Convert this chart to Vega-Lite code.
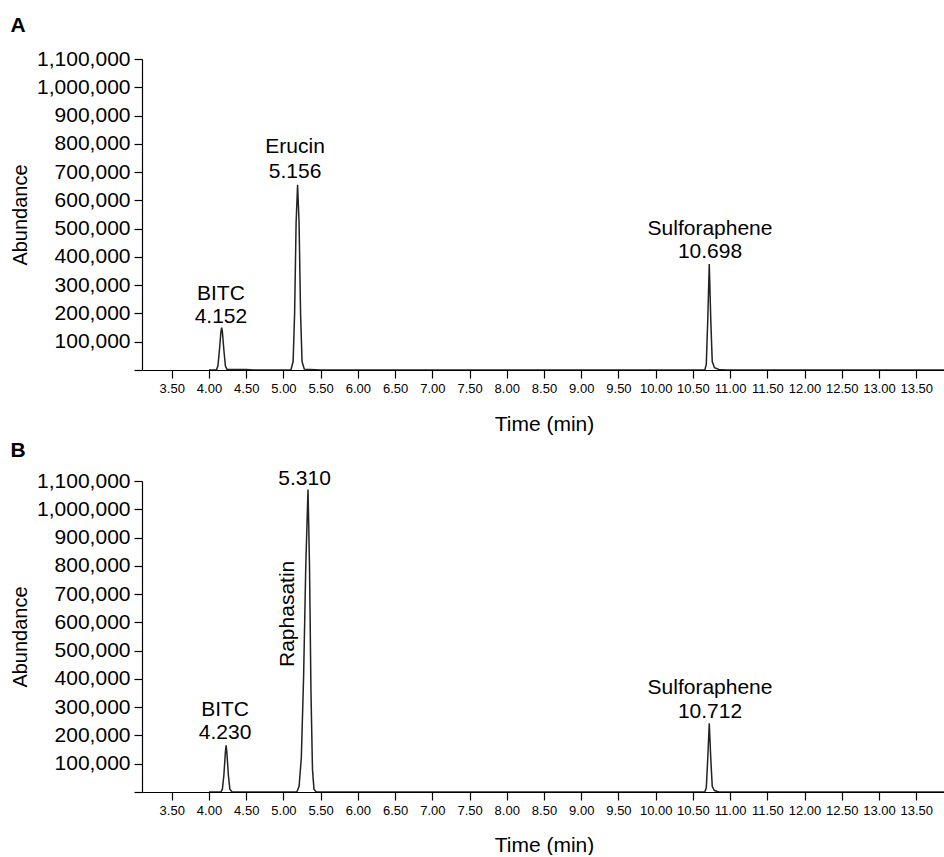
{
  "$schema": "https://vega.github.io/schema/vega-lite/v6.json",
  "padding": {"left": 10, "top": 15, "right": 0, "bottom": 0},
  "background": "white",
  "config": {
    "font": "Liberation Sans",
    "view": {"stroke": null},
    "axis": {"grid": false, "labelOverlap": false, "domainColor": "#000", "tickColor": "#000", "labelColor": "#000", "titleColor": "#000", "tickSize": 8, "domainWidth": 1.2, "tickWidth": 1.2, "titleFontWeight": "normal"},
    "title": {"fontSize": 21, "fontWeight": "bold", "anchor": "start", "frame": "bounds", "color": "#000"}
  },
  "datasets": {
    "trace": [
      {"panel": "A", "t": 4.00, "y": 0}, {"panel": "A", "t": 4.10, "y": 0}, {"panel": "A", "t": 4.12, "y": 15000}, {"panel": "A", "t": 4.14, "y": 70000}, {"panel": "A", "t": 4.16, "y": 135000}, {"panel": "A", "t": 4.17, "y": 150000}, {"panel": "A", "t": 4.18, "y": 135000}, {"panel": "A", "t": 4.20, "y": 70000}, {"panel": "A", "t": 4.22, "y": 15000}, {"panel": "A", "t": 4.24, "y": 3000}, {"panel": "A", "t": 4.50, "y": 1500}, {"panel": "A", "t": 4.60, "y": 0},
      {"panel": "A", "t": 5.10, "y": 0}, {"panel": "A", "t": 5.13, "y": 30000}, {"panel": "A", "t": 5.15, "y": 200000}, {"panel": "A", "t": 5.17, "y": 520000}, {"panel": "A", "t": 5.19, "y": 655000}, {"panel": "A", "t": 5.21, "y": 520000}, {"panel": "A", "t": 5.23, "y": 200000}, {"panel": "A", "t": 5.25, "y": 30000}, {"panel": "A", "t": 5.28, "y": 3000}, {"panel": "A", "t": 5.50, "y": 0},
      {"panel": "A", "t": 10.66, "y": 0}, {"panel": "A", "t": 10.68, "y": 20000}, {"panel": "A", "t": 10.70, "y": 180000}, {"panel": "A", "t": 10.72, "y": 375000}, {"panel": "A", "t": 10.74, "y": 180000}, {"panel": "A", "t": 10.76, "y": 30000}, {"panel": "A", "t": 10.79, "y": 8000}, {"panel": "A", "t": 10.85, "y": 2000}, {"panel": "A", "t": 10.95, "y": 0}, {"panel": "A", "t": 13.90, "y": 0},
      {"panel": "B", "t": 4.00, "y": 0}, {"panel": "B", "t": 4.16, "y": 0}, {"panel": "B", "t": 4.18, "y": 10000}, {"panel": "B", "t": 4.20, "y": 60000}, {"panel": "B", "t": 4.22, "y": 140000}, {"panel": "B", "t": 4.23, "y": 165000}, {"panel": "B", "t": 4.24, "y": 140000}, {"panel": "B", "t": 4.26, "y": 60000}, {"panel": "B", "t": 4.28, "y": 10000}, {"panel": "B", "t": 4.31, "y": 0},
      {"panel": "B", "t": 5.18, "y": 0}, {"panel": "B", "t": 5.21, "y": 20000}, {"panel": "B", "t": 5.24, "y": 120000}, {"panel": "B", "t": 5.27, "y": 400000}, {"panel": "B", "t": 5.30, "y": 800000}, {"panel": "B", "t": 5.33, "y": 1070000}, {"panel": "B", "t": 5.35, "y": 800000}, {"panel": "B", "t": 5.37, "y": 350000}, {"panel": "B", "t": 5.39, "y": 80000}, {"panel": "B", "t": 5.41, "y": 10000}, {"panel": "B", "t": 5.44, "y": 0},
      {"panel": "B", "t": 10.66, "y": 0}, {"panel": "B", "t": 10.68, "y": 15000}, {"panel": "B", "t": 10.70, "y": 120000}, {"panel": "B", "t": 10.72, "y": 243000}, {"panel": "B", "t": 10.74, "y": 120000}, {"panel": "B", "t": 10.76, "y": 20000}, {"panel": "B", "t": 10.79, "y": 5000}, {"panel": "B", "t": 10.85, "y": 0}, {"panel": "B", "t": 13.90, "y": 0}
    ],
    "labels": [
      {"panel": "A", "t": 4.16, "y": 270000, "text": "BITC", "angle": 0},
      {"panel": "A", "t": 4.16, "y": 186000, "text": "4.152", "angle": 0},
      {"panel": "A", "t": 5.156, "y": 788000, "text": "Erucin", "angle": 0},
      {"panel": "A", "t": 5.156, "y": 699000, "text": "5.156", "angle": 0},
      {"panel": "A", "t": 10.73, "y": 500000, "text": "Sulforaphene", "angle": 0},
      {"panel": "A", "t": 10.73, "y": 417000, "text": "10.698", "angle": 0},
      {"panel": "B", "t": 4.216, "y": 290000, "text": "BITC", "angle": 0},
      {"panel": "B", "t": 4.216, "y": 208000, "text": "4.230", "angle": 0},
      {"panel": "B", "t": 5.284, "y": 1107000, "text": "5.310", "angle": 0},
      {"panel": "B", "t": 5.06, "y": 630000, "text": "Raphasatin", "angle": 270},
      {"panel": "B", "t": 10.73, "y": 367000, "text": "Sulforaphene", "angle": 0},
      {"panel": "B", "t": 10.73, "y": 282000, "text": "10.712", "angle": 0}
    ]
  },
  "spacing": 6,
  "vconcat": [
    {
      "title": {"text": "A", "offset": 12},
      "width": 804, "height": 311,
      "encoding": {
        "x": {"field": "t", "type": "quantitative", "scale": {"domain": [3.1, 13.9], "nice": false, "zero": false},
          "axis": {"title": "Time (min)", "values": [3.5,4,4.5,5,5.5,6,6.5,7,7.5,8,8.5,9,9.5,10,10.5,11,11.5,12,12.5,13,13.5], "format": ".2f", "labelFontSize": 13, "labelPadding": 4, "labelOverlap": false, "titleFontSize": 21, "titlePadding": 18}},
        "y": {"field": "y", "type": "quantitative", "scale": {"domain": [0, 1100000], "nice": false},
          "axis": {"title": "Abundance", "values": [0,100000,200000,300000,400000,500000,600000,700000,800000,900000,1000000,1100000], "labelExpr": "datum.value == 0 ? '' : format(datum.value, ',')", "labelOverlap": false, "labelFontSize": 21, "labelPadding": 4, "titleFontSize": 20, "titlePadding": 6}}
      },
      "layer": [
        {
          "data": {"name": "trace"},
          "transform": [{"filter": "datum.panel == 'A'"}],
          "mark": {"type": "line", "color": "#222", "strokeWidth": 1.5, "clip": true}
        },
        {
          "data": {"name": "labels"},
          "transform": [{"filter": "datum.panel == 'A'"}],
          "mark": {"type": "text", "fontSize": 21, "color": "#000", "baseline": "middle", "align": "center"},
          "encoding": {
            "text": {"field": "text"},
            "angle": {"field": "angle", "type": "quantitative", "scale": null}
          }
        }
      ]
    },
    {
      "title": {"text": "B", "offset": 7},
      "width": 804, "height": 311,
      "encoding": {
        "x": {"field": "t", "type": "quantitative", "scale": {"domain": [3.1, 13.9], "nice": false, "zero": false},
          "axis": {"title": "Time (min)", "values": [3.5,4,4.5,5,5.5,6,6.5,7,7.5,8,8.5,9,9.5,10,10.5,11,11.5,12,12.5,13,13.5], "format": ".2f", "labelFontSize": 13, "labelPadding": 4, "labelOverlap": false, "titleFontSize": 21, "titlePadding": 17}},
        "y": {"field": "y", "type": "quantitative", "scale": {"domain": [0, 1100000], "nice": false},
          "axis": {"title": "Abundance", "values": [0,100000,200000,300000,400000,500000,600000,700000,800000,900000,1000000,1100000], "labelExpr": "datum.value == 0 ? '' : format(datum.value, ',')", "labelOverlap": false, "labelFontSize": 21, "labelPadding": 4, "titleFontSize": 20, "titlePadding": 6}}
      },
      "layer": [
        {
          "data": {"name": "trace"},
          "transform": [{"filter": "datum.panel == 'B'"}],
          "mark": {"type": "line", "color": "#222", "strokeWidth": 1.5, "clip": true}
        },
        {
          "data": {"name": "labels"},
          "transform": [{"filter": "datum.panel == 'B'"}],
          "mark": {"type": "text", "fontSize": 21, "color": "#000", "baseline": "middle", "align": "center"},
          "encoding": {
            "text": {"field": "text"},
            "angle": {"field": "angle", "type": "quantitative", "scale": null}
          }
        }
      ]
    }
  ]
}
